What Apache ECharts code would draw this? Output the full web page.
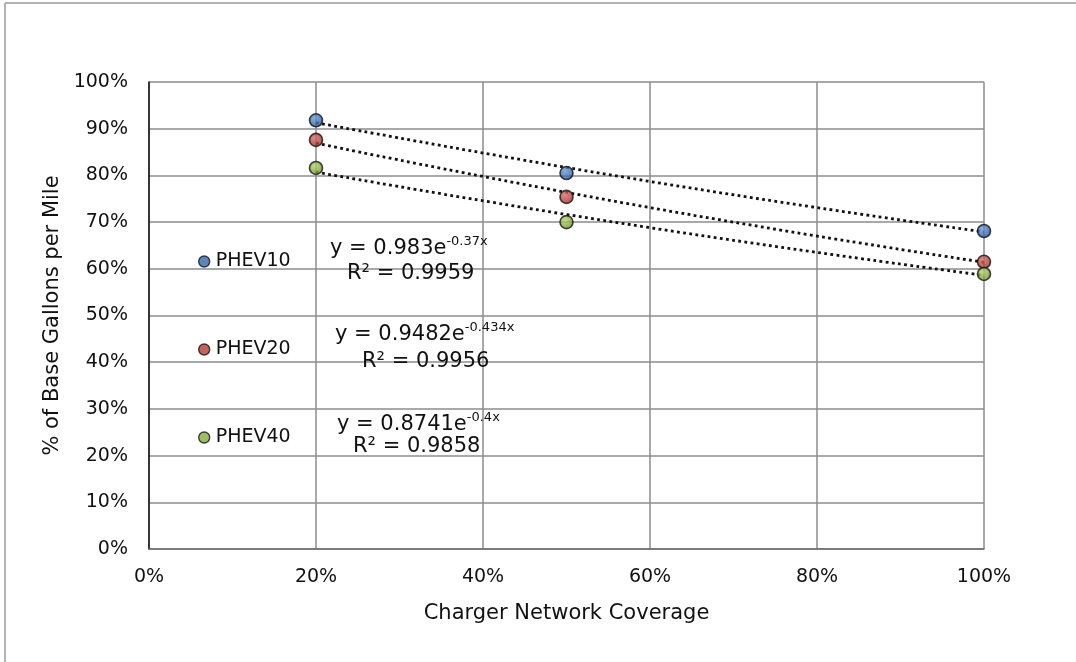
<!DOCTYPE html>
<html>
<head>
<meta charset="utf-8">
<script src="https://cdn.jsdelivr.net/npm/echarts@6/dist/echarts.min.js"></script>
<style>html,body{margin:0;padding:0;background:#fff}#c{width:1076px;height:662px}</style>
</head>
<body>
<div id="c"></div>
<script>
// Data
const coverage = [0.2, 0.5, 1.0];
const phev10 = [0.918, 0.805, 0.681];
const phev20 = [0.876, 0.754, 0.615];
const phev40 = [0.816, 0.700, 0.589];
// dotted trend lines (read at 20%, 60%, 100%)
const trendX = [0.2, 0.6, 1.0];
const trend10 = [0.913, 0.787, 0.679];
const trend20 = [0.869, 0.731, 0.614];
const trend40 = [0.807, 0.688, 0.586];
const seriesNames = ['PHEV10', 'PHEV20', 'PHEV40'];
const eqMain = ['y = 0.983e', 'y = 0.9482e', 'y = 0.8741e'];
const eqExp = ['-0.37x', '-0.434x', '-0.4x'];
const eqR2 = ['R² = 0.9959', 'R² = 0.9956', 'R² = 0.9858'];

const FONT = 'DejaVu Sans';
const colors = [
  ['#6a9ad8', '#1f4f95'],
  ['#dc6c66', '#962824'],
  ['#b3d66a', '#648a26']
];
const solid = ['#3366aa', '#b73a35', '#86ad3c'];
function grad(c) {
  return new echarts.graphic.RadialGradient(0.4, 0.35, 0.7, [
    {offset: 0, color: c[0]}, {offset: 1, color: c[1]}
  ]);
}
const pts = [phev10, phev20, phev40].map(v => v.map((y, i) => [coverage[i], y]));
const trends = [trend10, trend20, trend40].map(v => v.map((y, i) => [trendX[i], y]));

const series = [];
trends.forEach((d, i) => {
  series.push({
    name: seriesNames[i] + ' trend', type: 'line', data: d, smooth: true,
    symbol: 'none', z: 2, silent: true,
    lineStyle: {color: '#111', width: 2.8, type: [2.8, 3.4]}
  });
});
pts.forEach((d, i) => {
  series.push({
    name: seriesNames[i], type: 'scatter', data: d, symbol: 'circle', symbolSize: 13, z: 5,
    itemStyle: {color: grad(colors[i]), borderColor: '#151515', borderWidth: 1.6}
  });
});

const eqPos = [
  {x: 330, y1: 235, y2: 263},
  {x: 335, y1: 321, y2: 351},
  {x: 337, y1: 411, y2: 436}
];
const r2x = [347, 362, 353];
const graphics = [
  {type: 'line', shape: {x1: 5, y1: 3, x2: 1076, y2: 3}, style: {stroke: '#b3b3b3', lineWidth: 2}},
  {type: 'line', shape: {x1: 5, y1: 3, x2: 5, y2: 662}, style: {stroke: '#b3b3b3', lineWidth: 2}}
];
eqPos.forEach((p, i) => {
  graphics.push({
    type: 'text', x: p.x, y: p.y1, z: 10,
    style: {
      text: '{a|' + eqMain[i] + '}{s|' + eqExp[i] + '}',
      rich: {
        a: {fontFamily: FONT, fontSize: 21, fill: '#111', verticalAlign: 'bottom', lineHeight: 24},
        s: {fontFamily: FONT, fontSize: 13, fill: '#111', verticalAlign: 'top', lineHeight: 24, padding: [0, 0, 8, 0]}
      },
      fill: '#111'
    }
  });
  graphics.push({
    type: 'text', x: r2x[i], y: p.y2, z: 10,
    style: {text: eqR2[i], fontFamily: FONT, fontSize: 21, fill: '#111'}
  });
});

const chart = echarts.init(document.getElementById('c'));
chart.setOption({
  animation: false,
  backgroundColor: '#fff',
  textStyle: {fontFamily: FONT},
  grid: {left: 149, top: 82, right: 92, bottom: 113},
  legend: {
    data: seriesNames.map((n, i) => ({name: n, itemStyle: {color: solid[i], borderColor: '#151515', borderWidth: 1.4}})),
    orient: 'vertical', left: 193, top: 246,
    icon: 'circle', itemWidth: 11, itemHeight: 11, itemGap: 67,
    textStyle: {fontFamily: FONT, fontSize: 19, color: '#111', lineHeight: 21, padding: [0, 0, 0, 1]}
  },
  xAxis: {
    type: 'value', min: 0, max: 1, interval: 0.2,
    name: 'Charger Network Coverage', nameLocation: 'middle', nameGap: 54,
    nameTextStyle: {fontFamily: FONT, fontSize: 21, color: '#111'},
    axisLine: {show: true, lineStyle: {color: '#6e6e6e', width: 1.5}},
    axisTick: {show: false},
    axisLabel: {fontFamily: FONT, fontSize: 19, color: '#111', margin: 19,
      formatter: v => Math.round(v * 100) + '%'},
    splitLine: {show: true, lineStyle: {color: '#8c8c8c', width: 1.5}}
  },
  yAxis: {
    type: 'value', min: 0, max: 1, interval: 0.1,
    name: '% of Base Gallons per Mile', nameLocation: 'middle', nameGap: 76, nameRotate: 90,
    nameTextStyle: {fontFamily: FONT, fontSize: 21, color: '#111'},
    axisLine: {show: true, lineStyle: {color: '#111', width: 1.5}},
    axisTick: {show: false},
    axisLabel: {fontFamily: FONT, fontSize: 19, color: '#111', margin: 21,
      formatter: v => Math.round(v * 100) + '%'},
    splitLine: {show: true, lineStyle: {color: '#8c8c8c', width: 1.5}}
  },
  series: series,
  graphic: graphics
});
</script>
</body>
</html>
